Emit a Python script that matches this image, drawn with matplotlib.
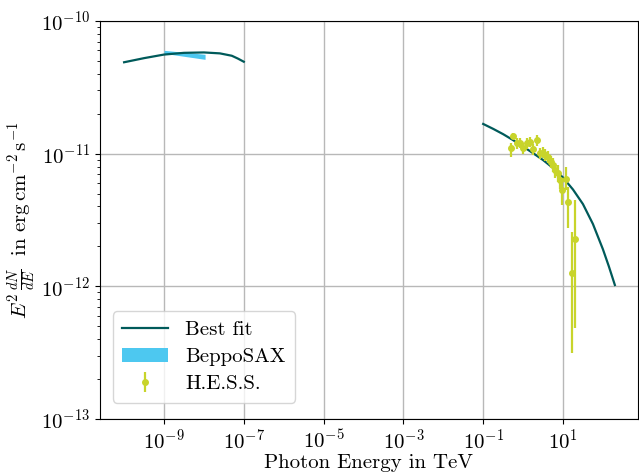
import matplotlib
matplotlib.use("Agg")
import matplotlib.pyplot as plt
import numpy as np

plt.rcParams['font.family'] = 'serif'
plt.rcParams['font.serif'] = ['cmr10', 'DejaVu Serif']
plt.rcParams['mathtext.fontset'] = 'cm'
plt.rcParams['axes.formatter.use_mathtext'] = True

# Best fit model, low-energy (synchrotron) segment: log10(E/TeV), log10(E^2 dN/dE)
fit_lo_logE = [-10.0, -9.5, -9.0, -8.5, -8.0, -7.6, -7.3, -7.15, -7.0]
fit_lo_logF = [-10.311, -10.280, -10.253, -10.240, -10.237, -10.244, -10.262, -10.283, -10.307]
# Best fit model, high-energy (IC) segment
fit_hi_logE = [-1.0, -0.75, -0.5, -0.25, 0.0, 0.25, 0.5, 0.75, 1.0, 1.25, 1.5, 1.75, 2.0, 2.15, 2.3]
fit_hi_logF = [-10.776, -10.813, -10.853, -10.898, -10.947, -10.996, -11.048, -11.108,
               -11.18, -11.27, -11.38, -11.53, -11.72, -11.85, -11.99]

# BeppoSAX butterfly
sax_E = [1.0e-9, 1.07e-8]
sax_lo = [5.70e-11, 5.14e-11]
sax_hi = [6.01e-11, 5.61e-11]

# H.E.S.S. data points
hess_E = [0.489, 0.568, 0.691, 0.836, 1.01, 1.23, 1.49, 1.80, 2.19, 2.65, 3.10, 3.54,
          4.28, 4.92, 5.52, 6.31, 7.63, 8.41, 9.27, 11.9, 13.6, 16.5, 20.0]
hess_F = [1.10e-11, 1.37e-11, 1.20e-11, 1.21e-11, 1.10e-11, 1.20e-11, 1.23e-11, 1.08e-11,
          1.27e-11, 1.01e-11, 1.02e-11, 9.77e-12, 9.49e-12, 8.71e-12, 8.22e-12, 7.54e-12,
          7.11e-12, 6.34e-12, 5.32e-12, 6.41e-12, 4.35e-12, 1.26e-12, 2.28e-12]
hess_F_low = [9.5e-12, 1.28e-11, 1.09e-11, 1.10e-11, 1.00e-11, 1.09e-11, 1.12e-11, 9.8e-12,
              1.15e-11, 9.1e-12, 9.2e-12, 8.8e-12, 8.5e-12, 7.8e-12, 7.3e-12, 6.6e-12,
              6.1e-12, 5.4e-12, 4.10e-12, 5.32e-12, 2.74e-12, 3.13e-13, 4.86e-13]
hess_F_high = [1.20e-11, 1.44e-11, 1.31e-11, 1.32e-11, 1.20e-11, 1.31e-11, 1.34e-11, 1.18e-11,
               1.39e-11, 1.11e-11, 1.12e-11, 1.08e-11, 1.05e-11, 9.6e-12, 9.2e-12, 8.5e-12,
               8.2e-12, 7.3e-12, 6.56e-12, 7.98e-12, 5.63e-12, 2.58e-12, 4.48e-12]

xticks = [1e-9, 1e-7, 1e-5, 1e-3, 1e-1, 1e1]

fit_color = '#005a5a'
sax_color = '#4dc8f0'
hess_color = '#c8d42b'

fig = plt.figure(figsize=(6.39, 4.72), dpi=100)
ax = fig.add_axes([100/639, 53/472, 538/639, 398/472])

ax.plot(10**np.array(fit_lo_logE), 10**np.array(fit_lo_logF), color=fit_color, lw=1.6,
        label='Best fit', zorder=3)
ax.plot(10**np.array(fit_hi_logE), 10**np.array(fit_hi_logF), color=fit_color, lw=1.6, zorder=3)
ax.fill_between(sax_E, sax_lo, sax_hi, color=sax_color, lw=0, label='BeppoSAX', zorder=2)

F = np.array(hess_F)
yerr = [F - np.array(hess_F_low), np.array(hess_F_high) - F]
ax.errorbar(hess_E, hess_F, yerr=yerr, fmt='o', color=hess_color, ms=4,
            elinewidth=1.6, capsize=0, label='H.E.S.S.', zorder=4)

ax.set_xscale('log')
ax.set_yscale('log')
ax.set_xlim(10**-10.604, 10**2.88)
ax.set_ylim(1e-13, 1e-10)
ax.set_xticks(xticks)
ax.xaxis.set_minor_locator(matplotlib.ticker.NullLocator())
ax.grid(True, which='major', color='#b8b8b8', lw=1.0)
ax.set_axisbelow(True)
ax.tick_params(labelsize=15)

ax.set_xlabel('Photon Energy in TeV', fontsize=15, labelpad=1)
ax.set_ylabel(r'$E^2\,\frac{dN}{dE}\;$ in $\mathrm{erg\,cm^{-2}\,s^{-1}}$', fontsize=15, labelpad=2)

ax.legend(loc='lower left', fontsize=15, handlelength=2.2, borderpad=0.45,
          labelspacing=0.4, bbox_to_anchor=(0.005, 0.015))

fig.savefig('out.png', dpi=100)
